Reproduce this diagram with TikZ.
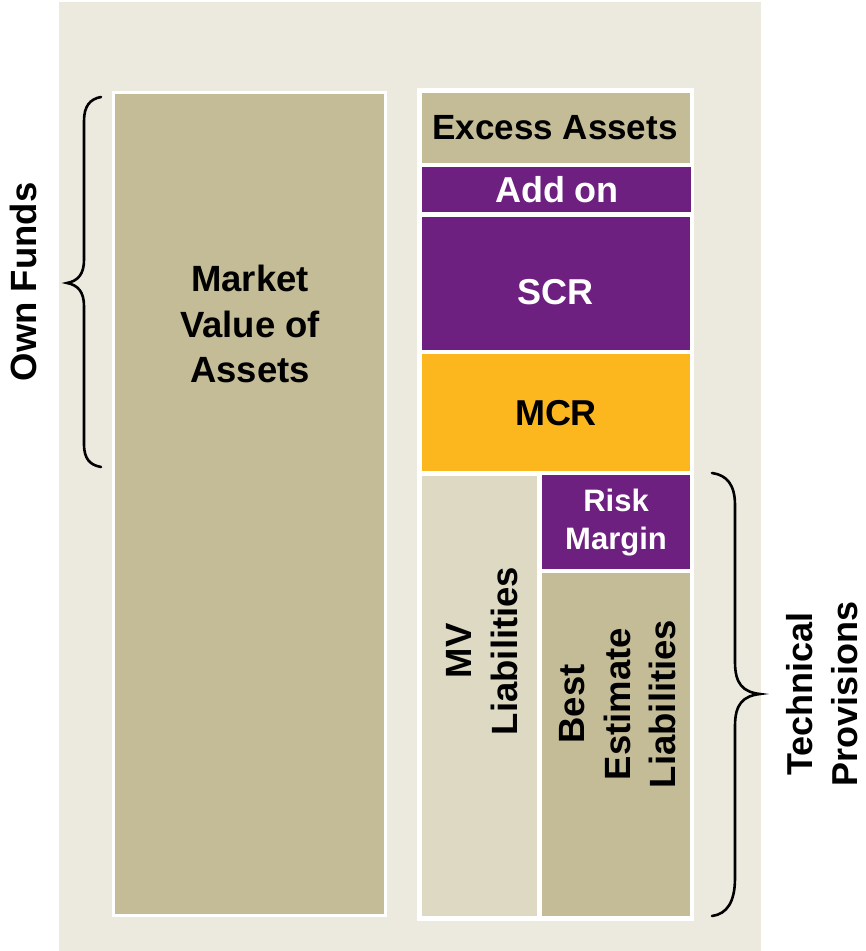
\documentclass[tikz,border=0pt]{standalone}
\usepackage{fontspec}
\setmainfont{Liberation Sans}
\definecolor{panel}{HTML}{ECEADF}
\definecolor{tan}{HTML}{C4BC97}
\definecolor{lighttan}{HTML}{DDD9C3}
\definecolor{plum}{HTML}{6E2080}
\definecolor{amber}{HTML}{FCB71E}
\tikzset{
  blk/.style={draw=white, line width=1.2pt},
  lbl/.style={font=\fontsize{35}{45}\selectfont\bfseries, align=center, inner sep=0pt},
  lblb/.style={lbl, font=\fontsize{36.5}{45.5}\selectfont\bfseries},
  lblw/.style={lbl, text=white},
  brace/.style={line width=2.6pt, line cap=round, black}
}
\begin{document}
\begin{tikzpicture}[x=1pt,y=-1pt]
\useasboundingbox (0,0) rectangle (866,951);
\fill[white] (0,0) rectangle (866,951);
\fill[panel] (59,2) rectangle (761,951);
% left column
\fill[white] (112,91) rectangle (387,917);
\draw[blk, fill=tan] (114.5,93.5) rectangle (384.5,914.5);
% right column frame
\fill[white] (417,88) rectangle (694,921);
\draw[blk, fill=tan] (421,92) rectangle (691,164);
\draw[blk, fill=plum] (421,166) rectangle (692,213);
\draw[blk, fill=plum] (421,216) rectangle (691,351);
\draw[blk, fill=amber] (421,353) rectangle (691,472);
\draw[blk, fill=lighttan] (421,475) rectangle (538,917);
\draw[blk, fill=plum] (541,474) rectangle (691,570);
\draw[blk, fill=tan] (541,572) rectangle (691,917);
% labels
\node[lblb] (mva) at (250,324) {Market\\Value of\\Assets};
\node[lbl] (ea) at (555,128) {Excess Assets};
\node[lblw, font=\fontsize{36}{45}\selectfont\bfseries] (ao) at (557,190) {Add on};
\node[lblw, font=\fontsize{36}{45}\selectfont\bfseries] (scr) at (555,292) {SCR};
\node[lbl, font=\fontsize{36}{45}\selectfont\bfseries] (mcr) at (556,413) {MCR};
\node[lblw, font=\fontsize{31}{38}\selectfont\bfseries] (rm) at (616,523) {Risk\\Margin};
\node[lblb, rotate=90] (mvl) at (482,651) {MV\\Liabilities};
\node[lblb, rotate=90] (bel) at (618,704) {Best\\Estimate\\Liabilities};
\node[lblb, rotate=90] (of) at (23,282) {Own Funds};
\node[lbl, font=\fontsize{36}{45}\selectfont\bfseries, rotate=90] (tp) at (822,694) {Technical\\Provisions};
% braces
\draw[brace] (101,97) .. controls (90,99) and (84,106) .. (84,121) -- (84,260)
  .. controls (84,274) and (78,281) .. (67,283)
  .. controls (78,285) and (84,292) .. (84,306) -- (84,444)
  .. controls (84,459) and (90,465) .. (101,467);
\draw[brace] (712,473) .. controls (727,475) and (735,485) .. (735,505) -- (735,662)
  .. controls (735,684) and (743,692) .. (760,694)
  .. controls (743,696) and (735,704) .. (735,726) -- (735,878)
  .. controls (735,902) and (727,914) .. (712,916);
\end{tikzpicture}
\end{document}
